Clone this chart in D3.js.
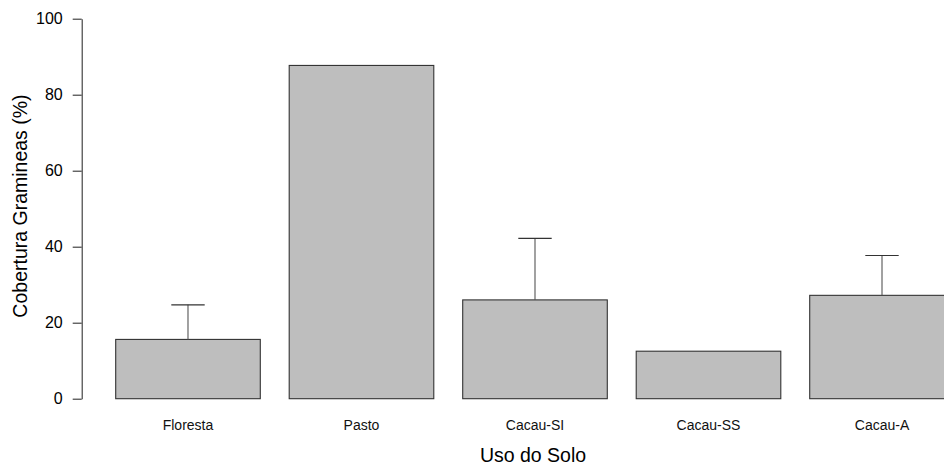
<!DOCTYPE html>
<html>
<head>
<meta charset="utf-8">
<script src="https://cdn.jsdelivr.net/npm/d3@7"></script>
<style>
  html, body { margin: 0; padding: 0; background: #fff; }
  svg { display: block; font-family: "Liberation Sans", Arial, sans-serif; }
</style>
</head>
<body>
<svg id="chart" width="944" height="466"></svg>
<script>
// Land-use categories and mean grass cover (%) with upper error values
const categories = ["Floresta", "Pasto", "Cacau-SI", "Cacau-SS", "Cacau-A"];
const means = [15.6, 87.7, 26.0, 12.5, 27.2];
const errorTops = [24.7, null, 42.2, null, 37.7];
const yTicks = [0, 20, 40, 60, 80, 100];

const svg = d3.select("#chart");

const y = d3.scaleLinear().domain([0, 100]).range([398.7, 18.7]);
const x = d3.scaleBand()
  .domain(categories)
  .range([115.7, 954.3])
  .paddingInner(1 / 6)
  .paddingOuter(0);

// Bars
svg.append("g")
  .selectAll("rect")
  .data(categories)
  .join("rect")
  .attr("x", d => x(d))
  .attr("y", (d, i) => y(means[i]))
  .attr("width", x.bandwidth())
  .attr("height", (d, i) => y(0) - y(means[i]))
  .attr("fill", "#bebebe")
  .attr("stroke", "#333")
  .attr("stroke-width", 1.1);

// Upper error bars
const eb = svg.append("g");
categories.forEach((c, i) => {
  if (errorTops[i] == null) return;
  const cx = x(c) + x.bandwidth() / 2;
  eb.append("line")
    .attr("x1", cx).attr("x2", cx)
    .attr("y1", y(means[i])).attr("y2", y(errorTops[i]))
    .attr("stroke", "#555").attr("stroke-width", 1.1);
  eb.append("line")
    .attr("x1", cx - 16.7).attr("x2", cx + 16.7)
    .attr("y1", y(errorTops[i])).attr("y2", y(errorTops[i]))
    .attr("stroke", "#333").attr("stroke-width", 1.1);
});

// Y axis
const yAxis = svg.append("g")
  .attr("transform", "translate(81.7,0)")
  .call(d3.axisLeft(y).tickValues(yTicks).tickSize(9).tickSizeOuter(0).tickPadding(10));
yAxis.select(".domain").attr("stroke", "#333").attr("stroke-width", 1.1);
yAxis.selectAll(".tick line").attr("stroke", "#333").attr("stroke-width", 1.1);
yAxis.selectAll(".tick text")
  .attr("font-size", 16)
  .attr("font-family", "Liberation Sans, Arial, sans-serif")
  .attr("fill", "#000");

// Category labels
svg.append("g")
  .selectAll("text")
  .data(categories)
  .join("text")
  .attr("x", d => x(d) + x.bandwidth() / 2)
  .attr("y", 430)
  .attr("text-anchor", "middle")
  .attr("font-size", 14)
  .attr("fill", "#111")
  .text(d => d);

// Axis titles
svg.append("text")
  .attr("x", 533)
  .attr("y", 462)
  .attr("text-anchor", "middle")
  .attr("font-size", 19.5)
  .attr("fill", "#000")
  .text("Uso do Solo");

svg.append("text")
  .attr("transform", "translate(27,206) rotate(-90)")
  .attr("text-anchor", "middle")
  .attr("font-size", 19.5)
  .attr("fill", "#000")
  .text("Cobertura Gramineas (%)");
</script>
</body>
</html>
